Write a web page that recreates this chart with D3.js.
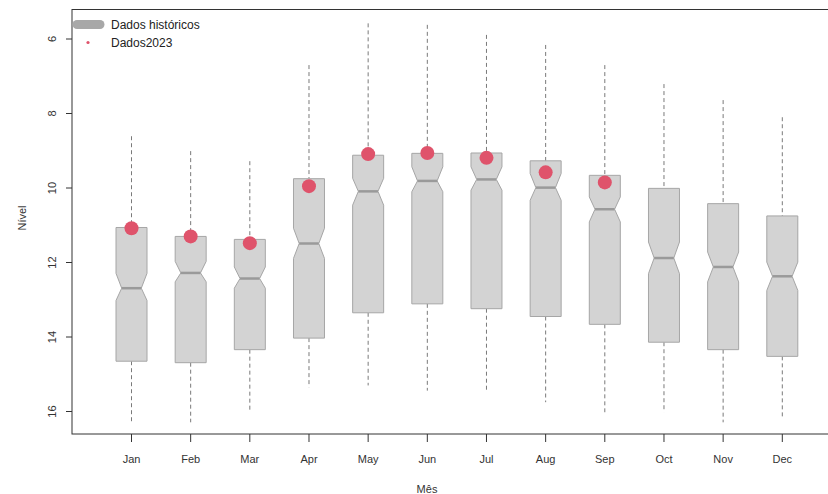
<!DOCTYPE html>
<html>
<head>
<meta charset="utf-8">
<script src="https://cdn.jsdelivr.net/npm/d3@7"></script>
<style>
html,body{margin:0;padding:0;background:#fff;}
svg{display:block;font-family:"Liberation Sans",Arial,sans-serif;}
</style>
</head>
<body>
<svg id="chart" width="828" height="494"></svg>
<script>
const months = ["Jan","Feb","Mar","Apr","May","Jun","Jul","Aug","Sep","Oct","Nov","Dec"];
const whiskerLow  = [8.61, 9.01, 9.28, 6.70, 5.58, 5.62, 5.89, 6.16, 6.70, 7.21, 7.64, 8.10];
const q1          = [11.06, 11.30, 11.38, 9.75, 9.12, 9.07, 9.06, 9.27, 9.66, 10.01, 10.42, 10.75];
const medians     = [12.69, 12.28, 12.43, 11.49, 10.09, 9.81, 9.77, 9.99, 10.57, 11.88, 12.12, 12.37];
const q3          = [14.65, 14.69, 14.34, 14.03, 13.35, 13.11, 13.24, 13.45, 13.66, 14.14, 14.34, 14.52];
const whiskerHigh = [16.29, 16.29, 15.99, 15.35, 15.30, 15.44, 15.48, 15.75, 16.02, 16.02, 16.29, 16.16];
const notchLow    = [12.29, 11.97, 12.12, 11.08, 9.74, 9.43, 9.43, 9.61, 10.24, 11.45, 11.72, 11.99];
const notchHigh   = [13.02, 12.52, 12.69, 11.89, 10.46, 10.10, 10.06, 10.33, 10.91, 12.30, 12.52, 12.75];
const dados2023   = [11.08, 11.30, 11.48, 9.95, 9.09, 9.06, 9.19, 9.58, 9.85, null, null, null];
const yTicks      = [6, 8, 10, 12, 14, 16];
const legendLabels = ["Dados históricos", "Dados2023"];

const svg = d3.select("#chart");
const frame = {left: 72, top: 9.5, right: 840, bottom: 434};

const x = d3.scalePoint().domain(months).range([131.5, 782.3]);
const y = d3.scaleLinear().domain([6, 16]).range([39, 411.5]);

const boxFill = "#d3d3d3", boxStroke = "#a6a6a6", medStroke = "#9a9a9a";
const red = "#DF536B";
const halfW = 15.5, notchHalf = 9.8;

// frame
svg.append("rect")
  .attr("x", frame.left).attr("y", frame.top)
  .attr("width", frame.right - frame.left).attr("height", frame.bottom - frame.top)
  .attr("fill", "none").attr("stroke", "#333").attr("stroke-width", 1);

const data = months.map((m, i) => ({
  m, wl: whiskerLow[i], q1: q1[i], med: medians[i], q3: q3[i], wh: whiskerHigh[i],
  nl: notchLow[i], nh: notchHigh[i], d: dados2023[i]
}));

const g = svg.append("g");
// whiskers
data.forEach(d => {
  const cx = x(d.m);
  g.append("line").attr("x1", cx).attr("x2", cx).attr("y1", y(d.wl)).attr("y2", y(d.q1))
    .attr("stroke", "#7a7a7a").attr("stroke-width", 1).attr("stroke-dasharray", "4,3");
  g.append("line").attr("x1", cx).attr("x2", cx).attr("y1", y(d.q3)).attr("y2", y(d.wh))
    .attr("stroke", "#7a7a7a").attr("stroke-width", 1).attr("stroke-dasharray", "4,3");
});
// notched boxes
data.forEach(d => {
  const cx = x(d.m);
  const pts = [
    [cx - halfW, y(d.q1)], [cx + halfW, y(d.q1)],
    [cx + halfW, y(d.nl)], [cx + notchHalf, y(d.med)], [cx + halfW, y(d.nh)],
    [cx + halfW, y(d.q3)], [cx - halfW, y(d.q3)],
    [cx - halfW, y(d.nh)], [cx - notchHalf, y(d.med)], [cx - halfW, y(d.nl)]
  ];
  g.append("path").attr("d", d3.line()(pts) + "Z")
    .attr("fill", boxFill).attr("stroke", boxStroke).attr("stroke-width", 1);
  g.append("line").attr("x1", cx - notchHalf).attr("x2", cx + notchHalf)
    .attr("y1", y(d.med)).attr("y2", y(d.med))
    .attr("stroke", medStroke).attr("stroke-width", 2.5);
});
// 2023 points
g.selectAll("circle.pt").data(data.filter(d => d.d != null)).join("circle")
  .attr("class", "pt").attr("cx", d => x(d.m)).attr("cy", d => y(d.d)).attr("r", 7)
  .attr("fill", red);

// y axis
const yAxis = svg.append("g");
yTicks.forEach(t => {
  yAxis.append("line").attr("x1", 66).attr("x2", frame.left).attr("y1", y(t)).attr("y2", y(t))
    .attr("stroke", "#333");
  yAxis.append("text").attr("transform", `translate(56,${y(t)}) rotate(-90)`)
    .attr("text-anchor", "middle").attr("font-size", 11).attr("fill", "#333").text(t);
});
svg.append("text").attr("transform", "translate(26,218) rotate(-90)")
  .attr("text-anchor", "middle").attr("font-size", 11).attr("fill", "#333").text("Nível");

// x axis
const xAxis = svg.append("g");
months.forEach(m => {
  xAxis.append("line").attr("x1", x(m)).attr("x2", x(m)).attr("y1", frame.bottom).attr("y2", frame.bottom + 8)
    .attr("stroke", "#333");
  xAxis.append("text").attr("x", x(m)).attr("y", 463).attr("text-anchor", "middle")
    .attr("font-size", 11).attr("fill", "#333").text(m);
});
svg.append("text").attr("x", 427).attr("y", 493).attr("text-anchor", "middle")
  .attr("font-size", 11).attr("fill", "#333").text("Mês");

// legend
const leg = svg.append("g");
leg.append("line").attr("x1", 77).attr("x2", 100).attr("y1", 24.5).attr("y2", 24.5)
  .attr("stroke", "#a8a8a8").attr("stroke-width", 9).attr("stroke-linecap", "round");
leg.append("circle").attr("cx", 88).attr("cy", 42.5).attr("r", 1.6).attr("fill", red);
leg.append("text").attr("x", 111).attr("y", 29).attr("font-size", 12).attr("fill", "#222").text(legendLabels[0]);
leg.append("text").attr("x", 111).attr("y", 47).attr("font-size", 12).attr("fill", "#222").text(legendLabels[1]);
</script>
</body>
</html>
